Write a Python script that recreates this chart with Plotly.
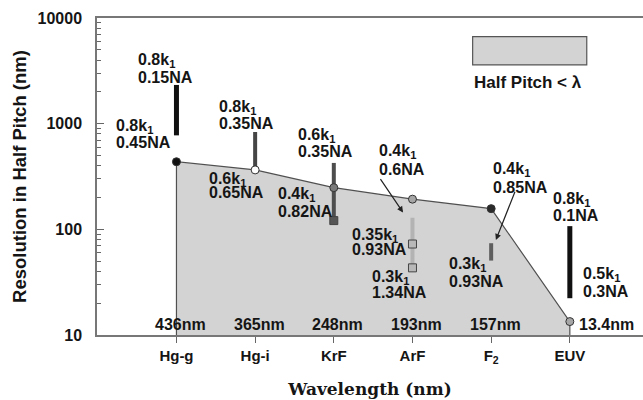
import plotly.graph_objects as go

# ---------------- data ----------------
sources = ["Hg-g", "Hg-i", "KrF", "ArF", "F<sub>2</sub>", "EUV"]
src_idx = [0, 1, 2, 3, 4, 5]
wavelength_nm = [436, 365, 248, 193, 157, 13.4]
wavelength_labels = ["436nm", "365nm", "248nm", "193nm", "157nm", "13.4nm"]
point_colors = ["#111111", "#ffffff", "#7a7a7a", "#a6a6a6", "#2a2a2a", "#a6a6a6"]

y_tickvals = [10, 100, 1000, 10000]
y_ticktext = ["10", "100", "1000", "10000"]

bar_top = [2325, 834, 425, 128.7, 73.9, 107.2]
bar_bottom = [775, 337, 121, 43.2, 50.6, 22.3]
bar_colors = ["#111111", "#454545", "#4d4d4d", "#b3b3b3", "#5e5e5e", "#111111"]
bar_widths = [5, 4, 4, 4, 4, 5]

square_idx = [2, 3, 3]
square_vals = [121, 72.6, 43.2]
square_colors = ["#555555", "#b8b8b8", "#b8b8b8"]

# label lines: (line1, line2, x_left, y_line1(log10), y_line2(log10))
k1 = "k<sub>1</sub>"
labels = [
    ("0.8" + k1, "0.15NA", -0.52, 3.60, 3.44),
    ("0.8" + k1, "0.45NA", -0.80, 2.97, 2.82),
    ("0.8" + k1, "0.35NA", 0.51, 3.15, 3.00),
    ("0.6" + k1, "0.65NA", 0.385, 2.47, 2.345),
    ("0.4" + k1, "0.82NA", 1.265, 2.33, 2.17),
    ("0.6" + k1, "0.35NA", 1.515, 2.89, 2.735),
    ("0.4" + k1, "0.6NA", 2.555, 2.735, 2.565),
    ("0.35" + k1, "0.93NA", 2.20, 1.945, 1.805),
    ("0.3" + k1, "1.34NA", 2.455, 1.54, 1.40),
    ("0.4" + k1, "0.85NA", 4.00, 2.565, 2.395),
    ("0.8" + k1, "0.1NA", 4.765, 2.28, 2.135),
    ("0.3" + k1, "0.93NA", 3.44, 1.665, 1.505),
    ("0.5" + k1, "0.3NA", 5.14, 1.57, 1.41),
]
# arrows: (tail_x, tail_y(log), head_x, head_y(log))
arrows = [
    (2.58, 2.49, 2.88, 2.16),
    (4.31, 2.37, 4.06, 1.90),
]

TXT = "#151515"
FONT = "Liberation Sans, Arial, sans-serif"

fig = go.Figure()

# region where half pitch < wavelength
fig.add_trace(go.Scatter(
    x=[src_idx[0]] + src_idx + [src_idx[-1]],
    y=[10] + wavelength_nm + [10],
    mode="lines", fill="toself", fillcolor="#d3d3d3",
    line=dict(color="#505050", width=1.2), hoverinfo="skip", showlegend=False))

# resolution range bars
for i in range(len(src_idx)):
    fig.add_trace(go.Scatter(
        x=[src_idx[i], src_idx[i]], y=[bar_top[i], bar_bottom[i]],
        mode="lines", line=dict(color=bar_colors[i], width=bar_widths[i]),
        showlegend=False, hoverinfo="skip"))

# squares
fig.add_trace(go.Scatter(
    x=square_idx, y=square_vals, mode="markers",
    marker=dict(symbol="square", size=8, color=square_colors,
                line=dict(color="#444444", width=1)),
    showlegend=False, hoverinfo="skip"))

# wavelength points
fig.add_trace(go.Scatter(
    x=src_idx, y=wavelength_nm, mode="markers",
    marker=dict(symbol="circle", size=8, color=point_colors,
                line=dict(color="#333333", width=1)),
    showlegend=False, hoverinfo="skip"))

annos = []
for l1, l2, x, y1, y2 in labels:
    for t, y in ((l1, y1), (l2, y2)):
        annos.append(dict(x=x, y=y, xref="x", yref="y", text=t, showarrow=False,
                          xanchor="left", yanchor="middle",
                          font=dict(family=FONT, size=16, color=TXT, weight="bold")))

for i in range(len(src_idx) - 1):
    annos.append(dict(x=src_idx[i] + 0.05, y=1.095, xref="x", yref="y",
                      text=wavelength_labels[i], showarrow=False,
                      xanchor="center", yanchor="middle",
                      font=dict(family=FONT, size=16, color=TXT, weight="bold")))
annos.append(dict(x=src_idx[-1] + 0.085, y=1.095, xref="x", yref="y",
                  text=wavelength_labels[-1], showarrow=False,
                  xanchor="left", yanchor="middle",
                  font=dict(family=FONT, size=16, color=TXT, weight="bold")))

for tx, ty, hx, hy in arrows:
    annos.append(dict(x=hx, y=hy, ax=tx, ay=ty, xref="x", yref="y",
                      axref="x", ayref="y", text="", showarrow=True,
                      arrowhead=2, arrowsize=1, arrowwidth=1.2, arrowcolor="#222222"))

# legend text
annos.append(dict(x=0.687, y=0.798, xref="paper", yref="paper",
                  text="Half Pitch < λ", showarrow=False,
                  xanchor="left", yanchor="middle",
                  font=dict(family=FONT, size=17, color=TXT, weight="bold")))

fig.update_layout(
    width=643, height=400,
    margin=dict(l=97, r=0, t=18, b=65),
    plot_bgcolor="white", paper_bgcolor="white",
    annotations=annos,
    shapes=[dict(type="rect", xref="paper", yref="paper",
                 x0=0.688, x1=0.897, y0=0.852, y1=0.941,
                 fillcolor="#d3d3d3", line=dict(color="#555555", width=1.2))],
    xaxis=dict(
        range=[-1.01, 5.93], tickmode="array", tickvals=src_idx, ticktext=sources,
        ticks="outside", ticklen=6, tickcolor="#666666", tickwidth=1.2,
        showline=True, linecolor="#777777", linewidth=1.5, mirror=True,
        showgrid=False, zeroline=False,
        tickfont=dict(family=FONT, size=15, color=TXT, weight="bold"),
        title=dict(text="Wavelength (nm)", standoff=18,
                   font=dict(family="DejaVu Serif, serif", size=17, color=TXT, weight="bold")),
    ),
    yaxis=dict(
        type="log", range=[1, 4], tickmode="array",
        tickvals=y_tickvals, ticktext=y_ticktext,
        ticks="inside", ticklen=7, tickcolor="#666666", tickwidth=1.2,
        minor=dict(ticks="inside", ticklen=4, dtick="D1", tickcolor="#666666", showgrid=False),
        showline=True, linecolor="#777777", linewidth=1.5,
        showgrid=False, zeroline=False, ticklabelstandoff=10,
        tickfont=dict(family=FONT, size=16, color=TXT, weight="bold"),
        title=dict(text="Resolution in Half Pitch (nm)", standoff=6,
                   font=dict(family=FONT, size=18.5, color=TXT, weight="bold")),
    ),
)

fig.write_html("out.html")
